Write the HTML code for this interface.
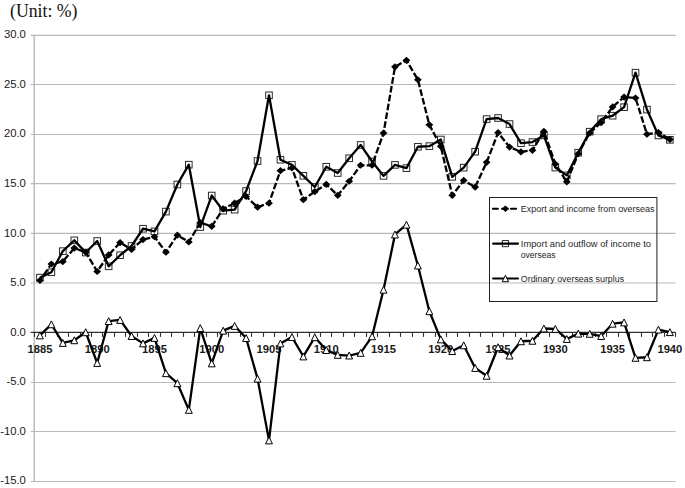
<!DOCTYPE html>
<html><head><meta charset="utf-8"><title>Chart</title><style>
html,body{margin:0;padding:0;background:#fff;}
body{width:685px;height:488px;overflow:hidden;}
svg{display:block;}
text{font-family:"Liberation Sans",sans-serif;fill:#1a1a1a;}
.yl{font-size:11.3px;}
.xl{font-size:11.2px;font-weight:bold;}
.lg{font-size:9.7px;fill:#262626;}
.tt{font-family:"Liberation Serif",serif;font-size:17.9px;fill:#111;}
</style></head>
<body>
<svg width="685" height="488" viewBox="0 0 685 488">
<line x1="30.70" y1="35.30" x2="675.60" y2="35.30" stroke="#b8b8b8" stroke-width="1.2"/>
<line x1="30.70" y1="84.50" x2="675.60" y2="84.50" stroke="#b8b8b8" stroke-width="1.2"/>
<line x1="30.70" y1="134.50" x2="675.60" y2="134.50" stroke="#b8b8b8" stroke-width="1.2"/>
<line x1="30.70" y1="183.60" x2="675.60" y2="183.60" stroke="#b8b8b8" stroke-width="1.2"/>
<line x1="30.70" y1="233.30" x2="675.60" y2="233.30" stroke="#b8b8b8" stroke-width="1.2"/>
<line x1="30.70" y1="283.00" x2="675.60" y2="283.00" stroke="#b8b8b8" stroke-width="1.2"/>
<line x1="30.70" y1="382.50" x2="675.60" y2="382.50" stroke="#b8b8b8" stroke-width="1.2"/>
<line x1="30.70" y1="431.50" x2="675.60" y2="431.50" stroke="#b8b8b8" stroke-width="1.2"/>
<line x1="30.70" y1="481.50" x2="675.60" y2="481.50" stroke="#b8b8b8" stroke-width="1.2"/>
<line x1="34.20" y1="34.70" x2="34.20" y2="482.10" stroke="#b8b8b8" stroke-width="1.4"/>
<text x="25.9" y="38.21" text-anchor="end" class="yl">30.0</text>
<text x="25.9" y="87.78" text-anchor="end" class="yl">25.0</text>
<text x="25.9" y="137.35" text-anchor="end" class="yl">20.0</text>
<text x="25.9" y="186.93" text-anchor="end" class="yl">15.0</text>
<text x="25.9" y="236.50" text-anchor="end" class="yl">10.0</text>
<text x="25.9" y="286.07" text-anchor="end" class="yl">5.0</text>
<text x="25.9" y="335.64" text-anchor="end" class="yl">0.0</text>
<text x="25.9" y="385.22" text-anchor="end" class="yl">-5.0</text>
<text x="25.9" y="434.79" text-anchor="end" class="yl">-10.0</text>
<text x="25.9" y="484.36" text-anchor="end" class="yl">-15.0</text>
<line x1="30.70" y1="332.30" x2="675.60" y2="332.30" stroke="#303030" stroke-width="1.2"/>
<line x1="34.50" y1="332.30" x2="34.50" y2="336.90" stroke="#303030" stroke-width="1.1"/>
<line x1="45.50" y1="332.30" x2="45.50" y2="336.90" stroke="#303030" stroke-width="1.1"/>
<line x1="57.50" y1="332.30" x2="57.50" y2="336.90" stroke="#303030" stroke-width="1.1"/>
<line x1="68.50" y1="332.30" x2="68.50" y2="336.90" stroke="#303030" stroke-width="1.1"/>
<line x1="80.50" y1="332.30" x2="80.50" y2="336.90" stroke="#303030" stroke-width="1.1"/>
<line x1="91.50" y1="332.30" x2="91.50" y2="336.90" stroke="#303030" stroke-width="1.1"/>
<line x1="102.50" y1="332.30" x2="102.50" y2="336.90" stroke="#303030" stroke-width="1.1"/>
<line x1="114.50" y1="332.30" x2="114.50" y2="336.90" stroke="#303030" stroke-width="1.1"/>
<line x1="125.50" y1="332.30" x2="125.50" y2="336.90" stroke="#303030" stroke-width="1.1"/>
<line x1="137.50" y1="332.30" x2="137.50" y2="336.90" stroke="#303030" stroke-width="1.1"/>
<line x1="148.50" y1="332.30" x2="148.50" y2="336.90" stroke="#303030" stroke-width="1.1"/>
<line x1="160.50" y1="332.30" x2="160.50" y2="336.90" stroke="#303030" stroke-width="1.1"/>
<line x1="171.50" y1="332.30" x2="171.50" y2="336.90" stroke="#303030" stroke-width="1.1"/>
<line x1="183.50" y1="332.30" x2="183.50" y2="336.90" stroke="#303030" stroke-width="1.1"/>
<line x1="194.50" y1="332.30" x2="194.50" y2="336.90" stroke="#303030" stroke-width="1.1"/>
<line x1="206.50" y1="332.30" x2="206.50" y2="336.90" stroke="#303030" stroke-width="1.1"/>
<line x1="217.50" y1="332.30" x2="217.50" y2="336.90" stroke="#303030" stroke-width="1.1"/>
<line x1="228.50" y1="332.30" x2="228.50" y2="336.90" stroke="#303030" stroke-width="1.1"/>
<line x1="240.50" y1="332.30" x2="240.50" y2="336.90" stroke="#303030" stroke-width="1.1"/>
<line x1="251.50" y1="332.30" x2="251.50" y2="336.90" stroke="#303030" stroke-width="1.1"/>
<line x1="263.50" y1="332.30" x2="263.50" y2="336.90" stroke="#303030" stroke-width="1.1"/>
<line x1="274.50" y1="332.30" x2="274.50" y2="336.90" stroke="#303030" stroke-width="1.1"/>
<line x1="286.50" y1="332.30" x2="286.50" y2="336.90" stroke="#303030" stroke-width="1.1"/>
<line x1="297.50" y1="332.30" x2="297.50" y2="336.90" stroke="#303030" stroke-width="1.1"/>
<line x1="309.50" y1="332.30" x2="309.50" y2="336.90" stroke="#303030" stroke-width="1.1"/>
<line x1="320.50" y1="332.30" x2="320.50" y2="336.90" stroke="#303030" stroke-width="1.1"/>
<line x1="331.50" y1="332.30" x2="331.50" y2="336.90" stroke="#303030" stroke-width="1.1"/>
<line x1="343.50" y1="332.30" x2="343.50" y2="336.90" stroke="#303030" stroke-width="1.1"/>
<line x1="354.50" y1="332.30" x2="354.50" y2="336.90" stroke="#303030" stroke-width="1.1"/>
<line x1="366.50" y1="332.30" x2="366.50" y2="336.90" stroke="#303030" stroke-width="1.1"/>
<line x1="377.50" y1="332.30" x2="377.50" y2="336.90" stroke="#303030" stroke-width="1.1"/>
<line x1="389.50" y1="332.30" x2="389.50" y2="336.90" stroke="#303030" stroke-width="1.1"/>
<line x1="400.50" y1="332.30" x2="400.50" y2="336.90" stroke="#303030" stroke-width="1.1"/>
<line x1="412.50" y1="332.30" x2="412.50" y2="336.90" stroke="#303030" stroke-width="1.1"/>
<line x1="423.50" y1="332.30" x2="423.50" y2="336.90" stroke="#303030" stroke-width="1.1"/>
<line x1="435.50" y1="332.30" x2="435.50" y2="336.90" stroke="#303030" stroke-width="1.1"/>
<line x1="446.50" y1="332.30" x2="446.50" y2="336.90" stroke="#303030" stroke-width="1.1"/>
<line x1="457.50" y1="332.30" x2="457.50" y2="336.90" stroke="#303030" stroke-width="1.1"/>
<line x1="469.50" y1="332.30" x2="469.50" y2="336.90" stroke="#303030" stroke-width="1.1"/>
<line x1="480.50" y1="332.30" x2="480.50" y2="336.90" stroke="#303030" stroke-width="1.1"/>
<line x1="492.50" y1="332.30" x2="492.50" y2="336.90" stroke="#303030" stroke-width="1.1"/>
<line x1="503.50" y1="332.30" x2="503.50" y2="336.90" stroke="#303030" stroke-width="1.1"/>
<line x1="515.50" y1="332.30" x2="515.50" y2="336.90" stroke="#303030" stroke-width="1.1"/>
<line x1="526.50" y1="332.30" x2="526.50" y2="336.90" stroke="#303030" stroke-width="1.1"/>
<line x1="538.50" y1="332.30" x2="538.50" y2="336.90" stroke="#303030" stroke-width="1.1"/>
<line x1="549.50" y1="332.30" x2="549.50" y2="336.90" stroke="#303030" stroke-width="1.1"/>
<line x1="561.50" y1="332.30" x2="561.50" y2="336.90" stroke="#303030" stroke-width="1.1"/>
<line x1="572.50" y1="332.30" x2="572.50" y2="336.90" stroke="#303030" stroke-width="1.1"/>
<line x1="583.50" y1="332.30" x2="583.50" y2="336.90" stroke="#303030" stroke-width="1.1"/>
<line x1="595.50" y1="332.30" x2="595.50" y2="336.90" stroke="#303030" stroke-width="1.1"/>
<line x1="606.50" y1="332.30" x2="606.50" y2="336.90" stroke="#303030" stroke-width="1.1"/>
<line x1="618.50" y1="332.30" x2="618.50" y2="336.90" stroke="#303030" stroke-width="1.1"/>
<line x1="629.50" y1="332.30" x2="629.50" y2="336.90" stroke="#303030" stroke-width="1.1"/>
<line x1="641.50" y1="332.30" x2="641.50" y2="336.90" stroke="#303030" stroke-width="1.1"/>
<line x1="652.50" y1="332.30" x2="652.50" y2="336.90" stroke="#303030" stroke-width="1.1"/>
<line x1="664.50" y1="332.30" x2="664.50" y2="336.90" stroke="#303030" stroke-width="1.1"/>
<line x1="675.50" y1="332.30" x2="675.50" y2="336.90" stroke="#303030" stroke-width="1.1"/>
<text x="39.93" y="353.0" text-anchor="middle" class="xl">1885</text>
<text x="97.19" y="353.0" text-anchor="middle" class="xl">1890</text>
<text x="154.46" y="353.0" text-anchor="middle" class="xl">1895</text>
<text x="211.73" y="353.0" text-anchor="middle" class="xl">1900</text>
<text x="269.00" y="353.0" text-anchor="middle" class="xl">1905</text>
<text x="326.27" y="353.0" text-anchor="middle" class="xl">1910</text>
<text x="383.53" y="353.0" text-anchor="middle" class="xl">1915</text>
<text x="440.80" y="353.0" text-anchor="middle" class="xl">1920</text>
<text x="498.07" y="353.0" text-anchor="middle" class="xl">1925</text>
<text x="555.34" y="353.0" text-anchor="middle" class="xl">1930</text>
<text x="612.61" y="353.0" text-anchor="middle" class="xl">1935</text>
<text x="669.87" y="353.0" text-anchor="middle" class="xl">1940</text>
<rect x="36.63" y="274.32" width="6.6" height="6.6" fill="#fff" stroke="#2a2a2a" stroke-width="1.0"/>
<rect x="48.08" y="268.96" width="6.6" height="6.6" fill="#fff" stroke="#2a2a2a" stroke-width="1.0"/>
<rect x="59.53" y="247.85" width="6.6" height="6.6" fill="#fff" stroke="#2a2a2a" stroke-width="1.0"/>
<rect x="70.99" y="237.04" width="6.6" height="6.6" fill="#fff" stroke="#2a2a2a" stroke-width="1.0"/>
<rect x="82.44" y="249.23" width="6.6" height="6.6" fill="#fff" stroke="#2a2a2a" stroke-width="1.0"/>
<rect x="93.89" y="237.73" width="6.6" height="6.6" fill="#fff" stroke="#2a2a2a" stroke-width="1.0"/>
<rect x="105.35" y="263.01" width="6.6" height="6.6" fill="#fff" stroke="#2a2a2a" stroke-width="1.0"/>
<rect x="116.80" y="251.91" width="6.6" height="6.6" fill="#fff" stroke="#2a2a2a" stroke-width="1.0"/>
<rect x="128.26" y="242.69" width="6.6" height="6.6" fill="#fff" stroke="#2a2a2a" stroke-width="1.0"/>
<rect x="139.71" y="225.44" width="6.6" height="6.6" fill="#fff" stroke="#2a2a2a" stroke-width="1.0"/>
<rect x="151.16" y="228.12" width="6.6" height="6.6" fill="#fff" stroke="#2a2a2a" stroke-width="1.0"/>
<rect x="162.62" y="208.29" width="6.6" height="6.6" fill="#fff" stroke="#2a2a2a" stroke-width="1.0"/>
<rect x="174.07" y="181.22" width="6.6" height="6.6" fill="#fff" stroke="#2a2a2a" stroke-width="1.0"/>
<rect x="185.52" y="161.39" width="6.6" height="6.6" fill="#fff" stroke="#2a2a2a" stroke-width="1.0"/>
<rect x="196.98" y="223.75" width="6.6" height="6.6" fill="#fff" stroke="#2a2a2a" stroke-width="1.0"/>
<rect x="208.43" y="192.23" width="6.6" height="6.6" fill="#fff" stroke="#2a2a2a" stroke-width="1.0"/>
<rect x="219.88" y="207.39" width="6.6" height="6.6" fill="#fff" stroke="#2a2a2a" stroke-width="1.0"/>
<rect x="231.34" y="206.40" width="6.6" height="6.6" fill="#fff" stroke="#2a2a2a" stroke-width="1.0"/>
<rect x="242.79" y="187.76" width="6.6" height="6.6" fill="#fff" stroke="#2a2a2a" stroke-width="1.0"/>
<rect x="254.24" y="157.72" width="6.6" height="6.6" fill="#fff" stroke="#2a2a2a" stroke-width="1.0"/>
<rect x="265.70" y="91.99" width="6.6" height="6.6" fill="#fff" stroke="#2a2a2a" stroke-width="1.0"/>
<rect x="277.15" y="156.43" width="6.6" height="6.6" fill="#fff" stroke="#2a2a2a" stroke-width="1.0"/>
<rect x="288.61" y="161.59" width="6.6" height="6.6" fill="#fff" stroke="#2a2a2a" stroke-width="1.0"/>
<rect x="300.06" y="172.50" width="6.6" height="6.6" fill="#fff" stroke="#2a2a2a" stroke-width="1.0"/>
<rect x="311.51" y="183.70" width="6.6" height="6.6" fill="#fff" stroke="#2a2a2a" stroke-width="1.0"/>
<rect x="322.97" y="163.47" width="6.6" height="6.6" fill="#fff" stroke="#2a2a2a" stroke-width="1.0"/>
<rect x="334.42" y="169.72" width="6.6" height="6.6" fill="#fff" stroke="#2a2a2a" stroke-width="1.0"/>
<rect x="345.87" y="154.95" width="6.6" height="6.6" fill="#fff" stroke="#2a2a2a" stroke-width="1.0"/>
<rect x="357.33" y="141.66" width="6.6" height="6.6" fill="#fff" stroke="#2a2a2a" stroke-width="1.0"/>
<rect x="368.78" y="158.22" width="6.6" height="6.6" fill="#fff" stroke="#2a2a2a" stroke-width="1.0"/>
<rect x="380.23" y="172.60" width="6.6" height="6.6" fill="#fff" stroke="#2a2a2a" stroke-width="1.0"/>
<rect x="391.69" y="161.59" width="6.6" height="6.6" fill="#fff" stroke="#2a2a2a" stroke-width="1.0"/>
<rect x="403.14" y="164.86" width="6.6" height="6.6" fill="#fff" stroke="#2a2a2a" stroke-width="1.0"/>
<rect x="414.59" y="143.45" width="6.6" height="6.6" fill="#fff" stroke="#2a2a2a" stroke-width="1.0"/>
<rect x="426.05" y="142.85" width="6.6" height="6.6" fill="#fff" stroke="#2a2a2a" stroke-width="1.0"/>
<rect x="437.50" y="136.21" width="6.6" height="6.6" fill="#fff" stroke="#2a2a2a" stroke-width="1.0"/>
<rect x="448.96" y="173.49" width="6.6" height="6.6" fill="#fff" stroke="#2a2a2a" stroke-width="1.0"/>
<rect x="460.41" y="164.37" width="6.6" height="6.6" fill="#fff" stroke="#2a2a2a" stroke-width="1.0"/>
<rect x="471.86" y="148.40" width="6.6" height="6.6" fill="#fff" stroke="#2a2a2a" stroke-width="1.0"/>
<rect x="483.32" y="115.79" width="6.6" height="6.6" fill="#fff" stroke="#2a2a2a" stroke-width="1.0"/>
<rect x="494.77" y="114.69" width="6.6" height="6.6" fill="#fff" stroke="#2a2a2a" stroke-width="1.0"/>
<rect x="506.22" y="120.74" width="6.6" height="6.6" fill="#fff" stroke="#2a2a2a" stroke-width="1.0"/>
<rect x="517.68" y="139.88" width="6.6" height="6.6" fill="#fff" stroke="#2a2a2a" stroke-width="1.0"/>
<rect x="529.13" y="138.79" width="6.6" height="6.6" fill="#fff" stroke="#2a2a2a" stroke-width="1.0"/>
<rect x="540.58" y="132.14" width="6.6" height="6.6" fill="#fff" stroke="#2a2a2a" stroke-width="1.0"/>
<rect x="552.04" y="164.27" width="6.6" height="6.6" fill="#fff" stroke="#2a2a2a" stroke-width="1.0"/>
<rect x="563.49" y="172.10" width="6.6" height="6.6" fill="#fff" stroke="#2a2a2a" stroke-width="1.0"/>
<rect x="574.94" y="149.40" width="6.6" height="6.6" fill="#fff" stroke="#2a2a2a" stroke-width="1.0"/>
<rect x="586.40" y="128.38" width="6.6" height="6.6" fill="#fff" stroke="#2a2a2a" stroke-width="1.0"/>
<rect x="597.85" y="115.88" width="6.6" height="6.6" fill="#fff" stroke="#2a2a2a" stroke-width="1.0"/>
<rect x="609.31" y="112.41" width="6.6" height="6.6" fill="#fff" stroke="#2a2a2a" stroke-width="1.0"/>
<rect x="620.76" y="103.89" width="6.6" height="6.6" fill="#fff" stroke="#2a2a2a" stroke-width="1.0"/>
<rect x="632.21" y="69.39" width="6.6" height="6.6" fill="#fff" stroke="#2a2a2a" stroke-width="1.0"/>
<rect x="643.67" y="106.27" width="6.6" height="6.6" fill="#fff" stroke="#2a2a2a" stroke-width="1.0"/>
<rect x="655.12" y="132.14" width="6.6" height="6.6" fill="#fff" stroke="#2a2a2a" stroke-width="1.0"/>
<rect x="666.57" y="136.51" width="6.6" height="6.6" fill="#fff" stroke="#2a2a2a" stroke-width="1.0"/>
<polyline points="39.93,280.49 51.38,264.03 62.83,261.56 74.29,248.07 85.74,252.24 97.19,271.47 108.65,254.91 120.10,242.62 131.56,249.46 143.01,239.55 154.46,236.77 165.92,252.24 177.37,235.18 188.82,242.02 200.28,222.59 211.73,226.36 223.18,208.81 234.64,203.06 246.09,196.52 257.54,207.13 269.00,203.16 280.45,170.64 291.91,167.96 303.36,199.69 314.81,191.66 326.27,184.32 337.72,195.33 349.17,181.25 360.63,165.29 372.08,165.29 383.53,133.06 394.99,66.84 406.44,60.29 417.89,79.72 429.35,124.84 440.80,146.35 452.26,195.33 463.71,180.46 475.16,187.10 486.62,162.31 498.07,132.67 509.52,147.04 520.98,151.90 532.43,150.32 543.88,131.38 555.34,164.00 566.79,181.84 578.24,153.79 589.70,132.97 601.15,122.65 612.61,106.89 624.06,97.08 635.51,97.97 646.97,134.25 658.42,132.47 669.87,139.41" fill="none" stroke="#000" stroke-width="2.3" stroke-dasharray="6.7,2.27" stroke-dashoffset="2.36" stroke-linejoin="round"/>
<path d="M39.93,276.90 L43.83,280.49 L39.93,284.08 L36.03,280.49 Z" fill="#000"/>
<path d="M51.38,260.45 L55.28,264.03 L51.38,267.62 L47.48,264.03 Z" fill="#000"/>
<path d="M62.83,257.97 L66.73,261.56 L62.83,265.14 L58.93,261.56 Z" fill="#000"/>
<path d="M74.29,244.48 L78.19,248.07 L74.29,251.66 L70.39,248.07 Z" fill="#000"/>
<path d="M85.74,248.65 L89.64,252.24 L85.74,255.82 L81.84,252.24 Z" fill="#000"/>
<path d="M97.19,267.88 L101.09,271.47 L97.19,275.06 L93.29,271.47 Z" fill="#000"/>
<path d="M108.65,251.33 L112.55,254.91 L108.65,258.50 L104.75,254.91 Z" fill="#000"/>
<path d="M120.10,239.03 L124.00,242.62 L120.10,246.21 L116.20,242.62 Z" fill="#000"/>
<path d="M131.56,245.87 L135.46,249.46 L131.56,253.05 L127.66,249.46 Z" fill="#000"/>
<path d="M143.01,235.96 L146.91,239.55 L143.01,243.13 L139.11,239.55 Z" fill="#000"/>
<path d="M154.46,233.18 L158.36,236.77 L154.46,240.36 L150.56,236.77 Z" fill="#000"/>
<path d="M165.92,248.65 L169.82,252.24 L165.92,255.82 L162.02,252.24 Z" fill="#000"/>
<path d="M177.37,231.60 L181.27,235.18 L177.37,238.77 L173.47,235.18 Z" fill="#000"/>
<path d="M188.82,238.44 L192.72,242.02 L188.82,245.61 L184.92,242.02 Z" fill="#000"/>
<path d="M200.28,219.00 L204.18,222.59 L200.28,226.18 L196.38,222.59 Z" fill="#000"/>
<path d="M211.73,222.77 L215.63,226.36 L211.73,229.95 L207.83,226.36 Z" fill="#000"/>
<path d="M223.18,205.22 L227.08,208.81 L223.18,212.40 L219.28,208.81 Z" fill="#000"/>
<path d="M234.64,199.47 L238.54,203.06 L234.64,206.65 L230.74,203.06 Z" fill="#000"/>
<path d="M246.09,192.93 L249.99,196.52 L246.09,200.11 L242.19,196.52 Z" fill="#000"/>
<path d="M257.54,203.54 L261.44,207.13 L257.54,210.71 L253.64,207.13 Z" fill="#000"/>
<path d="M269.00,199.57 L272.90,203.16 L269.00,206.75 L265.10,203.16 Z" fill="#000"/>
<path d="M280.45,167.05 L284.35,170.64 L280.45,174.23 L276.55,170.64 Z" fill="#000"/>
<path d="M291.91,164.38 L295.81,167.96 L291.91,171.55 L288.01,167.96 Z" fill="#000"/>
<path d="M303.36,196.10 L307.26,199.69 L303.36,203.28 L299.46,199.69 Z" fill="#000"/>
<path d="M314.81,188.07 L318.71,191.66 L314.81,195.25 L310.91,191.66 Z" fill="#000"/>
<path d="M326.27,180.73 L330.17,184.32 L326.27,187.91 L322.37,184.32 Z" fill="#000"/>
<path d="M337.72,191.74 L341.62,195.33 L337.72,198.92 L333.82,195.33 Z" fill="#000"/>
<path d="M349.17,177.66 L353.07,181.25 L349.17,184.84 L345.27,181.25 Z" fill="#000"/>
<path d="M360.63,161.70 L364.53,165.29 L360.63,168.87 L356.73,165.29 Z" fill="#000"/>
<path d="M372.08,161.70 L375.98,165.29 L372.08,168.87 L368.18,165.29 Z" fill="#000"/>
<path d="M383.53,129.48 L387.43,133.06 L383.53,136.65 L379.63,133.06 Z" fill="#000"/>
<path d="M394.99,63.25 L398.89,66.84 L394.99,70.42 L391.09,66.84 Z" fill="#000"/>
<path d="M406.44,56.70 L410.34,60.29 L406.44,63.88 L402.54,60.29 Z" fill="#000"/>
<path d="M417.89,76.14 L421.79,79.72 L417.89,83.31 L413.99,79.72 Z" fill="#000"/>
<path d="M429.35,121.25 L433.25,124.84 L429.35,128.42 L425.45,124.84 Z" fill="#000"/>
<path d="M440.80,142.76 L444.70,146.35 L440.80,149.94 L436.90,146.35 Z" fill="#000"/>
<path d="M452.26,191.74 L456.16,195.33 L452.26,198.92 L448.36,195.33 Z" fill="#000"/>
<path d="M463.71,176.87 L467.61,180.46 L463.71,184.04 L459.81,180.46 Z" fill="#000"/>
<path d="M475.16,183.51 L479.06,187.10 L475.16,190.69 L471.26,187.10 Z" fill="#000"/>
<path d="M486.62,158.72 L490.52,162.31 L486.62,165.90 L482.72,162.31 Z" fill="#000"/>
<path d="M498.07,129.08 L501.97,132.67 L498.07,136.26 L494.17,132.67 Z" fill="#000"/>
<path d="M509.52,143.46 L513.42,147.04 L509.52,150.63 L505.62,147.04 Z" fill="#000"/>
<path d="M520.98,148.31 L524.88,151.90 L520.98,155.49 L517.08,151.90 Z" fill="#000"/>
<path d="M532.43,146.73 L536.33,150.32 L532.43,153.90 L528.53,150.32 Z" fill="#000"/>
<path d="M543.88,127.79 L547.78,131.38 L543.88,134.97 L539.98,131.38 Z" fill="#000"/>
<path d="M555.34,160.41 L559.24,164.00 L555.34,167.59 L551.44,164.00 Z" fill="#000"/>
<path d="M566.79,178.26 L570.69,181.84 L566.79,185.43 L562.89,181.84 Z" fill="#000"/>
<path d="M578.24,150.20 L582.14,153.79 L578.24,157.37 L574.34,153.79 Z" fill="#000"/>
<path d="M589.70,129.38 L593.60,132.97 L589.70,136.55 L585.80,132.97 Z" fill="#000"/>
<path d="M601.15,119.07 L605.05,122.65 L601.15,126.24 L597.25,122.65 Z" fill="#000"/>
<path d="M612.61,103.30 L616.51,106.89 L612.61,110.48 L608.71,106.89 Z" fill="#000"/>
<path d="M624.06,93.49 L627.96,97.08 L624.06,100.66 L620.16,97.08 Z" fill="#000"/>
<path d="M635.51,94.38 L639.41,97.97 L635.51,101.56 L631.61,97.97 Z" fill="#000"/>
<path d="M646.97,130.67 L650.87,134.25 L646.97,137.84 L643.07,134.25 Z" fill="#000"/>
<path d="M658.42,128.88 L662.32,132.47 L658.42,136.06 L654.52,132.47 Z" fill="#000"/>
<path d="M669.87,135.82 L673.77,139.41 L669.87,143.00 L665.97,139.41 Z" fill="#000"/>
<polyline points="39.93,277.62 51.38,272.26 62.83,251.15 74.29,240.34 85.74,252.53 97.19,241.03 108.65,266.31 120.10,255.21 131.56,245.99 143.01,228.74 154.46,231.42 165.92,211.59 177.37,184.52 188.82,164.69 200.28,227.05 211.73,195.53 223.18,210.69 234.64,209.70 246.09,191.06 257.54,161.02 269.00,95.29 280.45,159.73 291.91,164.89 303.36,175.80 314.81,187.00 326.27,166.77 337.72,173.02 349.17,158.25 360.63,144.96 372.08,161.52 383.53,175.90 394.99,164.89 406.44,168.16 417.89,146.75 429.35,146.15 440.80,139.51 452.26,176.79 463.71,167.67 475.16,151.70 486.62,119.09 498.07,117.99 509.52,124.04 520.98,143.18 532.43,142.09 543.88,135.44 555.34,167.57 566.79,175.40 578.24,152.70 589.70,131.68 601.15,119.18 612.61,115.71 624.06,107.19 635.51,72.69 646.97,109.57 658.42,135.44 669.87,139.81" fill="none" stroke="#000" stroke-width="2.3" stroke-linejoin="round"/>
<polyline points="39.93,335.42 51.38,324.31 62.83,342.95 74.29,340.28 85.74,332.25 97.19,362.98 108.65,321.14 120.10,319.95 131.56,336.01 143.01,343.35 154.46,337.90 165.92,373.19 177.37,383.21 188.82,409.88 200.28,328.08 211.73,363.38 223.18,330.66 234.64,325.90 246.09,338.00 257.54,378.65 269.00,440.41 280.45,343.45 291.91,337.00 303.36,356.44 314.81,337.20 326.27,350.09 337.72,354.85 349.17,355.54 360.63,352.87 372.08,336.31 383.53,289.71 394.99,234.49 406.44,224.67 417.89,265.52 429.35,311.23 440.80,339.38 452.26,351.08 463.71,345.33 475.16,367.94 486.62,375.77 498.07,347.22 509.52,355.54 520.98,341.27 532.43,340.77 543.88,328.48 555.34,328.97 566.79,338.99 578.24,333.63 589.70,333.83 601.15,336.01 612.61,323.72 624.06,322.43 635.51,357.83 646.97,357.23 658.42,329.57 669.87,332.15" fill="none" stroke="#000" stroke-width="2.3" stroke-linejoin="round"/>
<path d="M39.93,331.97 L43.38,338.87 L36.48,338.87 Z" fill="#fff" stroke="#000" stroke-width="1"/>
<path d="M51.38,320.86 L54.83,327.76 L47.93,327.76 Z" fill="#fff" stroke="#000" stroke-width="1"/>
<path d="M62.83,339.50 L66.28,346.40 L59.38,346.40 Z" fill="#fff" stroke="#000" stroke-width="1"/>
<path d="M74.29,336.83 L77.74,343.73 L70.84,343.73 Z" fill="#fff" stroke="#000" stroke-width="1"/>
<path d="M85.74,328.80 L89.19,335.70 L82.29,335.70 Z" fill="#fff" stroke="#000" stroke-width="1"/>
<path d="M97.19,359.53 L100.64,366.43 L93.74,366.43 Z" fill="#fff" stroke="#000" stroke-width="1"/>
<path d="M108.65,317.69 L112.10,324.59 L105.20,324.59 Z" fill="#fff" stroke="#000" stroke-width="1"/>
<path d="M120.10,316.50 L123.55,323.40 L116.65,323.40 Z" fill="#fff" stroke="#000" stroke-width="1"/>
<path d="M131.56,332.56 L135.01,339.46 L128.11,339.46 Z" fill="#fff" stroke="#000" stroke-width="1"/>
<path d="M143.01,339.90 L146.46,346.80 L139.56,346.80 Z" fill="#fff" stroke="#000" stroke-width="1"/>
<path d="M154.46,334.45 L157.91,341.35 L151.01,341.35 Z" fill="#fff" stroke="#000" stroke-width="1"/>
<path d="M165.92,369.74 L169.37,376.64 L162.47,376.64 Z" fill="#fff" stroke="#000" stroke-width="1"/>
<path d="M177.37,379.76 L180.82,386.66 L173.92,386.66 Z" fill="#fff" stroke="#000" stroke-width="1"/>
<path d="M188.82,406.43 L192.27,413.33 L185.37,413.33 Z" fill="#fff" stroke="#000" stroke-width="1"/>
<path d="M200.28,324.63 L203.73,331.53 L196.83,331.53 Z" fill="#fff" stroke="#000" stroke-width="1"/>
<path d="M211.73,359.93 L215.18,366.83 L208.28,366.83 Z" fill="#fff" stroke="#000" stroke-width="1"/>
<path d="M223.18,327.21 L226.63,334.11 L219.73,334.11 Z" fill="#fff" stroke="#000" stroke-width="1"/>
<path d="M234.64,322.45 L238.09,329.35 L231.19,329.35 Z" fill="#fff" stroke="#000" stroke-width="1"/>
<path d="M246.09,334.55 L249.54,341.45 L242.64,341.45 Z" fill="#fff" stroke="#000" stroke-width="1"/>
<path d="M257.54,375.20 L260.99,382.10 L254.09,382.10 Z" fill="#fff" stroke="#000" stroke-width="1"/>
<path d="M269.00,436.96 L272.45,443.86 L265.55,443.86 Z" fill="#fff" stroke="#000" stroke-width="1"/>
<path d="M280.45,340.00 L283.90,346.90 L277.00,346.90 Z" fill="#fff" stroke="#000" stroke-width="1"/>
<path d="M291.91,333.55 L295.36,340.45 L288.46,340.45 Z" fill="#fff" stroke="#000" stroke-width="1"/>
<path d="M303.36,352.99 L306.81,359.89 L299.91,359.89 Z" fill="#fff" stroke="#000" stroke-width="1"/>
<path d="M314.81,333.75 L318.26,340.65 L311.36,340.65 Z" fill="#fff" stroke="#000" stroke-width="1"/>
<path d="M326.27,346.64 L329.72,353.54 L322.82,353.54 Z" fill="#fff" stroke="#000" stroke-width="1"/>
<path d="M337.72,351.40 L341.17,358.30 L334.27,358.30 Z" fill="#fff" stroke="#000" stroke-width="1"/>
<path d="M349.17,352.09 L352.62,358.99 L345.72,358.99 Z" fill="#fff" stroke="#000" stroke-width="1"/>
<path d="M360.63,349.42 L364.08,356.32 L357.18,356.32 Z" fill="#fff" stroke="#000" stroke-width="1"/>
<path d="M372.08,332.86 L375.53,339.76 L368.63,339.76 Z" fill="#fff" stroke="#000" stroke-width="1"/>
<path d="M383.53,286.26 L386.98,293.16 L380.08,293.16 Z" fill="#fff" stroke="#000" stroke-width="1"/>
<path d="M394.99,231.04 L398.44,237.94 L391.54,237.94 Z" fill="#fff" stroke="#000" stroke-width="1"/>
<path d="M406.44,221.22 L409.89,228.12 L402.99,228.12 Z" fill="#fff" stroke="#000" stroke-width="1"/>
<path d="M417.89,262.07 L421.34,268.97 L414.44,268.97 Z" fill="#fff" stroke="#000" stroke-width="1"/>
<path d="M429.35,307.78 L432.80,314.68 L425.90,314.68 Z" fill="#fff" stroke="#000" stroke-width="1"/>
<path d="M440.80,335.93 L444.25,342.83 L437.35,342.83 Z" fill="#fff" stroke="#000" stroke-width="1"/>
<path d="M452.26,347.63 L455.71,354.53 L448.81,354.53 Z" fill="#fff" stroke="#000" stroke-width="1"/>
<path d="M463.71,341.88 L467.16,348.78 L460.26,348.78 Z" fill="#fff" stroke="#000" stroke-width="1"/>
<path d="M475.16,364.49 L478.61,371.39 L471.71,371.39 Z" fill="#fff" stroke="#000" stroke-width="1"/>
<path d="M486.62,372.32 L490.07,379.22 L483.17,379.22 Z" fill="#fff" stroke="#000" stroke-width="1"/>
<path d="M498.07,343.77 L501.52,350.67 L494.62,350.67 Z" fill="#fff" stroke="#000" stroke-width="1"/>
<path d="M509.52,352.09 L512.97,358.99 L506.07,358.99 Z" fill="#fff" stroke="#000" stroke-width="1"/>
<path d="M520.98,337.82 L524.43,344.72 L517.53,344.72 Z" fill="#fff" stroke="#000" stroke-width="1"/>
<path d="M532.43,337.32 L535.88,344.22 L528.98,344.22 Z" fill="#fff" stroke="#000" stroke-width="1"/>
<path d="M543.88,325.03 L547.33,331.93 L540.43,331.93 Z" fill="#fff" stroke="#000" stroke-width="1"/>
<path d="M555.34,325.52 L558.79,332.42 L551.89,332.42 Z" fill="#fff" stroke="#000" stroke-width="1"/>
<path d="M566.79,335.54 L570.24,342.44 L563.34,342.44 Z" fill="#fff" stroke="#000" stroke-width="1"/>
<path d="M578.24,330.18 L581.69,337.08 L574.79,337.08 Z" fill="#fff" stroke="#000" stroke-width="1"/>
<path d="M589.70,330.38 L593.15,337.28 L586.25,337.28 Z" fill="#fff" stroke="#000" stroke-width="1"/>
<path d="M601.15,332.56 L604.60,339.46 L597.70,339.46 Z" fill="#fff" stroke="#000" stroke-width="1"/>
<path d="M612.61,320.27 L616.06,327.17 L609.16,327.17 Z" fill="#fff" stroke="#000" stroke-width="1"/>
<path d="M624.06,318.98 L627.51,325.88 L620.61,325.88 Z" fill="#fff" stroke="#000" stroke-width="1"/>
<path d="M635.51,354.38 L638.96,361.28 L632.06,361.28 Z" fill="#fff" stroke="#000" stroke-width="1"/>
<path d="M646.97,353.78 L650.42,360.68 L643.52,360.68 Z" fill="#fff" stroke="#000" stroke-width="1"/>
<path d="M658.42,326.12 L661.87,333.02 L654.97,333.02 Z" fill="#fff" stroke="#000" stroke-width="1"/>
<path d="M669.87,328.70 L673.32,335.60 L666.42,335.60 Z" fill="#fff" stroke="#000" stroke-width="1"/>
<rect x="489.5" y="197.5" width="167.39999999999998" height="104.0" fill="none" stroke="#222" stroke-width="1"/>
<line x1="492.9" y1="208.8" x2="497.90000000000003" y2="208.8" stroke="#000" stroke-width="2" stroke-linecap="round"/>
<line x1="502.0" y1="208.8" x2="507.70000000000005" y2="208.8" stroke="#000" stroke-width="2" stroke-linecap="round"/>
<line x1="510.9" y1="208.8" x2="516.1" y2="208.8" stroke="#000" stroke-width="2" stroke-linecap="round"/>
<path d="M505.40,205.49 L509.00,208.80 L505.40,212.11 L501.80,208.80 Z" fill="#000"/>
<text x="520.8" y="212.0" class="lg" textLength="133.6" lengthAdjust="spacingAndGlyphs">Export and income from overseas</text>
<rect x="502.35" y="240.55" width="6.1" height="6.1" fill="#fff" stroke="#2a2a2a" stroke-width="1.0"/>
<line x1="493.1" y1="243.6" x2="518.0" y2="243.6" stroke="#000" stroke-width="2.1" stroke-linecap="round"/>
<text x="520.8" y="246.8" class="lg" textLength="130.2" lengthAdjust="spacingAndGlyphs">Import and outflow of income to</text>
<text x="520.8" y="257.6" class="lg" textLength="34.8" lengthAdjust="spacingAndGlyphs">overseas</text>
<line x1="493.1" y1="278.5" x2="518.0" y2="278.5" stroke="#000" stroke-width="2.1" stroke-linecap="round"/>
<path d="M505.40,275.30 L508.60,281.70 L502.20,281.70 Z" fill="#fff" stroke="#000" stroke-width="1"/>
<text x="520.8" y="281.7" class="lg" textLength="103.3" lengthAdjust="spacingAndGlyphs">Ordinary overseas surplus</text>
<text x="10.0" y="16.6" class="tt" textLength="67.5" lengthAdjust="spacingAndGlyphs">(Unit: %)</text>
</svg>
</body></html>
